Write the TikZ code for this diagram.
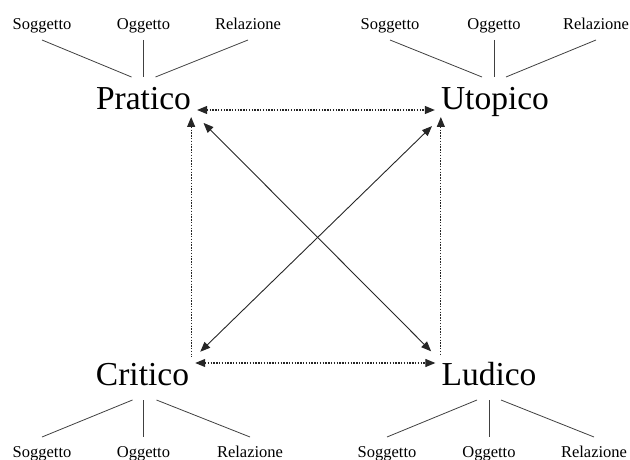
\documentclass[tikz,border=0pt]{standalone}
\usepackage{fontspec}
\setmainfont{Liberation Serif}
\usetikzlibrary{arrows.meta}

\begin{document}
\begin{tikzpicture}[
    x=1pt, y=-1pt,
    >={Triangle[length=10pt,width=8pt]},
    concept/.style={font=\fontsize{33.5}{40}\selectfont, inner sep=6pt, anchor=base},
    aspect/.style={font=\fontsize{16.5}{20}\selectfont, inner sep=3pt, anchor=base},
    leg/.style={draw=black!75, line width=0.8pt},
    link/.style={draw=black!85, line width=0.9pt},
    dotlink/.style={link, line width=1.1pt, dash pattern=on 1.4pt off 1.4pt}
  ]
  \useasboundingbox (0,0) rectangle (630,460);

  % the four concepts
  \node[concept] (pratico) at (143.5,110) {Pratico};
  \node[concept] (utopico) at (495,110) {Utopico};
  \node[concept] (critico) at (142.5,385) {Critico};
  \node[concept] (ludico) at (489,385) {Ludico};

  % their aspects
  \node[aspect] (ps) at (42,30) {Soggetto};
  \node[aspect] (po) at (143.5,30) {Oggetto};
  \node[aspect] (pr) at (248,30) {Relazione};
  \node[aspect] (us) at (390,30) {Soggetto};
  \node[aspect] (uo) at (494,30) {Oggetto};
  \node[aspect] (ur) at (596,30) {Relazione};
  \node[aspect] (cs) at (42,457) {Soggetto};
  \node[aspect] (co) at (143.5,457) {Oggetto};
  \node[aspect] (cr) at (250,457) {Relazione};
  \node[aspect] (ls) at (387,457) {Soggetto};
  \node[aspect] (lo) at (489,457) {Oggetto};
  \node[aspect] (lr) at (594,457) {Relazione};

  \draw[leg] ([yshift=-10pt]ps.base) -- ([xshift=-12pt,yshift=33pt]pratico.base);
  \draw[leg] ([yshift=-10pt]po.base) -- ([yshift=33pt]pratico.base);
  \draw[leg] ([yshift=-10pt]pr.base) -- ([xshift=12pt,yshift=33pt]pratico.base);
  \draw[leg] ([yshift=-10pt]us.base) -- ([xshift=-13pt,yshift=33pt]utopico.base);
  \draw[leg] ([yshift=-10pt]uo.base) -- ([xshift=-1pt,yshift=33pt]utopico.base);
  \draw[leg] ([yshift=-10pt]ur.base) -- ([xshift=11pt,yshift=33pt]utopico.base);
  \draw[leg] ([xshift=-10pt,yshift=-15pt]critico.base) -- ([yshift=20pt]cs.base);
  \draw[leg] ([xshift=1pt,yshift=-15pt]critico.base) -- ([yshift=20pt]co.base);
  \draw[leg] ([xshift=14pt,yshift=-15pt]critico.base) -- ([yshift=20pt]cr.base);
  \draw[leg] ([xshift=-12pt,yshift=-15pt]ludico.base) -- ([yshift=20pt]ls.base);
  \draw[leg] ([yshift=-15pt]ludico.base) -- ([yshift=20pt]lo.base);
  \draw[leg] ([xshift=12pt,yshift=-15pt]ludico.base) -- ([yshift=20pt]lr.base);

  % relations
  \coordinate (pl) at ([xshift=-6pt,yshift=-7pt]pratico.base east);
  \coordinate (ur0) at ([xshift=6pt,yshift=-7pt]utopico.base west);
  \draw[dotlink,<->] (pratico.base east) -- (utopico.base west);
  \draw[dotlink,<->] ([yshift=22pt]critico.base east) -- ([yshift=22pt]ludico.base west);
  \draw[dotlink,<-] (pl) -- (pl |- critico.north);
  \draw[dotlink,<-] (ur0) -- (ur0 |- ludico.north);
  \draw[link,<->,shorten <=9pt,shorten >=6pt] (pratico.south east) -- (ludico.north west);
  \draw[link,<->,shorten <=4pt,shorten >=7pt] (utopico.south west) -- (critico.north east);
\end{tikzpicture}
\end{document}
